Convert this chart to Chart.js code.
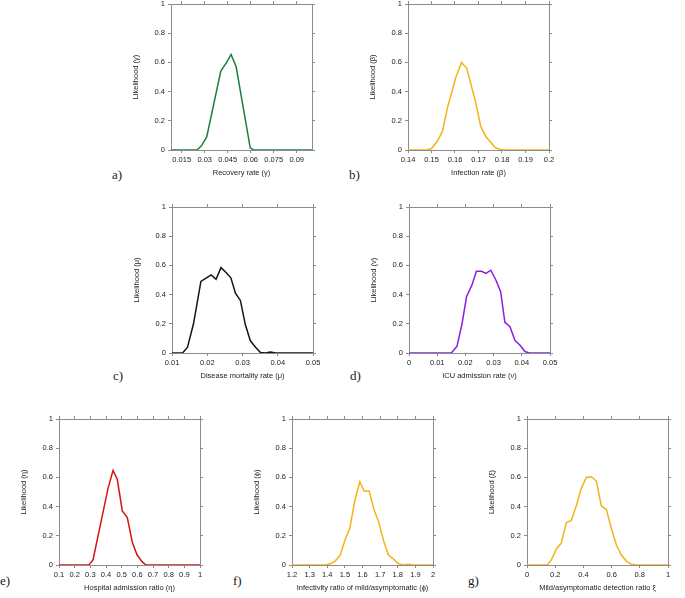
<!DOCTYPE html>
<html>
<head>
<meta charset="utf-8">
<script src="https://cdn.jsdelivr.net/npm/chart.js@4"></script>
<style>
  body { margin: 0; background: #fff; width: 685px; height: 598px; position: relative; overflow: hidden; }
  canvas { position: absolute; }
  .tag { position: absolute; font-family: "Liberation Serif", "DejaVu Serif", serif; font-size: 13px; line-height: 13px; color: #222; }
</style>
</head>
<body>
<script>
// likelihood curves, one x/y pair per panel
const recoveryX = [0.008, 0.025, 0.028, 0.0313, 0.0405, 0.0443, 0.0472, 0.0505, 0.0597, 0.062, 0.1];
const recoveryY = [0, 0, 0.03, 0.09, 0.54, 0.6, 0.655, 0.57, 0.015, 0, 0];

const infectionX = [0.14, 0.148, 0.150, 0.1525, 0.1547, 0.1568, 0.1604, 0.1628, 0.165, 0.1686, 0.171, 0.1732, 0.1772, 0.18, 0.2];
const infectionY = [0, 0, 0.01, 0.06, 0.13, 0.29, 0.5, 0.6, 0.56, 0.34, 0.16, 0.09, 0.015, 0, 0];

const mortalityX = [0.01, 0.013, 0.0144, 0.0161, 0.0182, 0.0211, 0.0225, 0.0239, 0.0254, 0.0267, 0.0280, 0.0294, 0.0308, 0.0322, 0.0337, 0.0351, 0.0365, 0.0379, 0.0394, 0.05];
const mortalityY = [0, 0, 0.04, 0.2, 0.49, 0.535, 0.505, 0.585, 0.55, 0.515, 0.41, 0.36, 0.195, 0.085, 0.04, 0.003, 0, 0.007, 0, 0];

const icuX = [0, 0.015, 0.017, 0.0188, 0.0204, 0.0224, 0.0239, 0.0257, 0.0273, 0.029, 0.0308, 0.0325, 0.034, 0.0358, 0.0376, 0.0393, 0.0411, 0.0427, 0.05];
const icuY = [0, 0, 0.045, 0.2, 0.385, 0.47, 0.56, 0.56, 0.545, 0.567, 0.5, 0.42, 0.21, 0.18, 0.085, 0.055, 0.01, 0, 0];

const hospitalX = [0.1, 0.29, 0.317, 0.413, 0.445, 0.472, 0.504, 0.536, 0.568, 0.598, 0.63, 0.655, 1];
const hospitalY = [0, 0, 0.035, 0.525, 0.648, 0.587, 0.37, 0.325, 0.155, 0.07, 0.023, 0, 0];

const infectivityX = [1.2, 1.39, 1.42, 1.445, 1.474, 1.5, 1.528, 1.557, 1.585, 1.609, 1.638, 1.666, 1.691, 1.719, 1.747, 1.776, 1.802, 1.83, 1.858, 1.887, 2];
const infectivityY = [0, 0, 0.01, 0.027, 0.068, 0.17, 0.25, 0.445, 0.57, 0.507, 0.507, 0.377, 0.297, 0.17, 0.068, 0.04, 0.01, 0, 0.005, 0, 0];

const detectionX = [0, 0.144, 0.173, 0.208, 0.2435, 0.279, 0.314, 0.35, 0.385, 0.421, 0.456, 0.492, 0.527, 0.563, 0.598, 0.634, 0.669, 0.705, 0.74, 0.775, 1];
const detectionY = [0, 0, 0.035, 0.11, 0.15, 0.29, 0.305, 0.405, 0.525, 0.6, 0.605, 0.575, 0.405, 0.38, 0.25, 0.137, 0.068, 0.027, 0.005, 0, 0];

// tick labels
const likelihoodTicks = [0, 0.2, 0.4, 0.6, 0.8, 1];
const recoveryTicks = [0.015, 0.03, 0.045, 0.06, 0.075, 0.09];
const infectionTicks = [0.14, 0.15, 0.16, 0.17, 0.18, 0.19, 0.2];
const mortalityTicks = [0.01, 0.02, 0.03, 0.04, 0.05];
const icuTicks = [0, 0.01, 0.02, 0.03, 0.04, 0.05];
const hospitalTicks = [0.1, 0.2, 0.3, 0.4, 0.5, 0.6, 0.7, 0.8, 0.9, 1];
const infectivityTicks = [1.2, 1.3, 1.4, 1.5, 1.6, 1.7, 1.8, 1.9, 2];
const detectionTicks = [0, 0.2, 0.4, 0.6, 0.8, 1];

const gold = '#f2b418';
const panels = [
    { tag: 'a)', left: 171, top: 4, xs: recoveryX, ys: recoveryY, ticks: recoveryTicks, min: 0.008, max: 0.1,
      color: '#1b7f3b', xTitle: 'Recovery rate (γ)', yTitle: 'Likelihood (γ)', tagDy: 24 },
    { tag: 'b)', left: 408, top: 4, xs: infectionX, ys: infectionY, ticks: infectionTicks, min: 0.14, max: 0.2,
      color: gold, xTitle: 'Infection rate (β)', yTitle: 'Likelihood (β)', tagDy: 24 },
    { tag: 'c)', left: 172, top: 207, xs: mortalityX, ys: mortalityY, ticks: mortalityTicks, min: 0.01, max: 0.05,
      color: '#151515', xTitle: 'Disease mortality rate (μ)', yTitle: 'Likelihood (μ)', tagDy: 22 },
    { tag: 'd)', left: 409, top: 207, xs: icuX, ys: icuY, ticks: icuTicks, min: 0, max: 0.05,
      color: '#8a1fe0', xTitle: 'ICU admission rate (ν)', yTitle: 'Likelihood (ν)', tagDy: 22 },
    { tag: 'e)', left: 59, top: 419, xs: hospitalX, ys: hospitalY, ticks: hospitalTicks, min: 0.1, max: 1,
      color: '#d41414', xTitle: 'Hospital admission ratio (η)', yTitle: 'Likelihood (η)', tagDy: 15 },
    { tag: 'f)', left: 292, top: 419, xs: infectivityX, ys: infectivityY, ticks: infectivityTicks, min: 1.2, max: 2,
      color: gold, xTitle: 'Infectivity ratio of mild/asymptomatic (ϕ)', yTitle: 'Likelihood (ϕ)', tagDy: 15 },
    { tag: 'g)', left: 527, top: 419, xs: detectionX, ys: detectionY, ticks: detectionTicks, min: 0, max: 1,
      color: gold, xTitle: 'Mild/asymptomatic detection ratio ξ', yTitle: 'Likelihood (ξ)', tagDy: 15 }
];

const PLOT_W = 141, PLOT_H = 146;
const PAD_L = 42, PAD_T = 8, PAD_R = 14, PAD_B = 30;
const frameColor = '#8c8c8c';
const textColor = '#222';
const tickFont = { family: '"Liberation Sans", Arial, sans-serif', size: 7.5 };

const fixedTicks = values => axis => { axis.ticks = values.map(v => ({ value: v })); };

function frameAxis(position, min, max, values, size) {
    return {
        type: 'linear', position, min, max,
        afterBuildTicks: fixedTicks(values),
        afterFit: s => { if (s.isHorizontal()) s.height = size; else s.width = size; },
        ticks: { display: false },
        grid: { drawOnChartArea: false, tickLength: 3, color: frameColor },
        border: { color: frameColor }
    };
}

panels.forEach(p => {
    const canvas = document.createElement('canvas');
    canvas.width = PAD_L + PLOT_W + PAD_R;
    canvas.height = PAD_T + PLOT_H + PAD_B;
    canvas.style.left = (p.left - PAD_L) + 'px';
    canvas.style.top = (p.top - PAD_T) + 'px';
    document.body.appendChild(canvas);

    const tag = document.createElement('div');
    tag.className = 'tag';
    tag.textContent = p.tag;
    tag.style.left = (p.left - 59) + 'px';
    tag.style.top = (p.top + PLOT_H + p.tagDy - 6.5) + 'px';
    document.body.appendChild(tag);

    new Chart(canvas, {
        type: 'line',
        data: {
            datasets: [{
                data: p.xs.map((x, i) => ({ x, y: p.ys[i] })),
                borderColor: p.color,
                borderWidth: 1.5,
                pointRadius: 0,
                tension: 0,
                fill: false,
                xAxisID: 'x',
                yAxisID: 'y'
            }]
        },
        options: {
            responsive: false,
            animation: false,
            devicePixelRatio: 1,
            layout: { padding: 0 },
            plugins: { legend: { display: false }, tooltip: { enabled: false } },
            scales: {
                x: {
                    type: 'linear', position: 'bottom', min: p.min, max: p.max,
                    afterBuildTicks: fixedTicks(p.ticks),
                    afterFit: s => { s.height = PAD_B; },
                    ticks: { font: tickFont, color: textColor, padding: 2, maxRotation: 0, autoSkip: false, callback: v => String(v) },
                    grid: { drawOnChartArea: false, tickLength: 3, color: frameColor },
                    border: { color: frameColor },
                    title: { display: true, text: p.xTitle, font: tickFont, color: textColor, padding: { top: 0, bottom: 2.5 } }
                },
                y: {
                    type: 'linear', position: 'left', min: 0, max: 1,
                    afterBuildTicks: fixedTicks(likelihoodTicks),
                    afterFit: s => { s.width = PAD_L; },
                    ticks: { font: tickFont, color: textColor, padding: 3, callback: v => String(v) },
                    grid: { drawOnChartArea: false, tickLength: 3, color: frameColor },
                    border: { color: frameColor },
                    title: { display: true, text: p.yTitle, font: tickFont, color: textColor, padding: { top: 2, bottom: 0 } }
                },
                x2: frameAxis('top', p.min, p.max, p.ticks, PAD_T),
                y2: frameAxis('right', 0, 1, likelihoodTicks, PAD_R)
            }
        }
    });
});
</script>
</body>
</html>
